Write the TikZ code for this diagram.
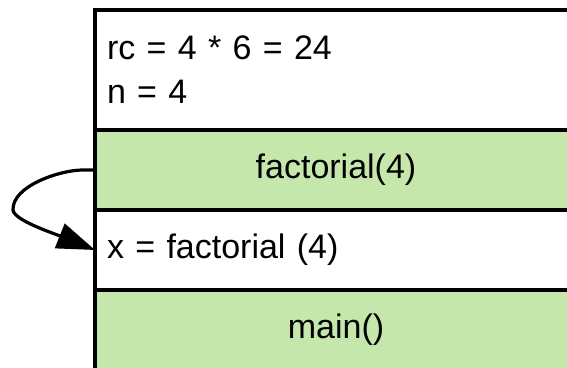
\documentclass[tikz,border=0pt]{standalone}
\usepackage{fontspec}
\setmainfont{Liberation Sans}
\usetikzlibrary{arrows.meta,positioning}
\definecolor{rowgreen}{HTML}{C5E7AC}
\tikzset{
  row/.style={rectangle, draw, line width=1.75pt, outer sep=0pt, minimum width=241pt, inner xsep=6pt},
  varrow/.style={row, fill=white, align=left, text width=229pt},
  callrow/.style={row, fill=rowgreen},
  retarrow/.style={line width=1.6pt, line cap=round, -{Triangle[length=19pt,width=13pt]}}
}

\begin{document}
\begin{tikzpicture}[x=0.5pt, y=0.5pt, font=\fontsize{17}{22}\selectfont]
  \useasboundingbox (0,0) rectangle (567,368);
  \clip (0,0) rectangle (567,368);
  \node[varrow, minimum height=60pt, anchor=north west] (frame) at (95,358) {rc = 4 * 6 = 24\\n = 4};
  \node[callrow, minimum height=40pt, below=0pt of frame] (fact) {factorial(4)};
  \node[varrow, minimum height=40pt, below=0pt of fact] (assign) {x = factorial (4)};
  \node[callrow, minimum height=40pt, below=0pt of assign] (main) {main()};

  \draw[retarrow] (fact.west) -- (83,198) .. controls (60,198) and (12,182) .. (13,158)
    .. controls (14,148) and (50,136) .. (assign.west);
\end{tikzpicture}
\end{document}
